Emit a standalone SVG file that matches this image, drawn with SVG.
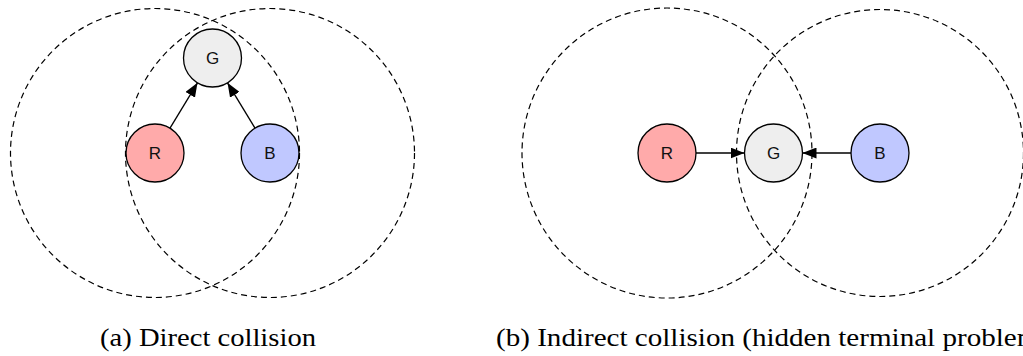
<svg xmlns="http://www.w3.org/2000/svg" width="1023" height="356" viewBox="0 0 1023 356">
<style>
.range{fill:none;stroke:#000;stroke-width:1.2;stroke-dasharray:6 4}
.node{stroke:#000;stroke-width:1.3}
.lbl{font-family:"Liberation Sans",Arial,sans-serif;font-size:17px;text-anchor:middle;fill:#111}
.edge{stroke:#000;stroke-width:1.3;fill:none;marker-end:url(#arr)}
.cap{font-family:"Liberation Serif","Times New Roman",serif;font-size:25px;fill:#000}
</style>
<defs>
<marker id="arr" viewBox="0 0 14 11" refX="14" refY="5.5" markerWidth="14" markerHeight="11" markerUnits="userSpaceOnUse" orient="auto">
<path d="M0,0 L14,5.5 L0,11 z" fill="#000"/>
</marker>
</defs>
<rect width="1023" height="356" fill="#fff"/>
<g id="ranges">
<circle class="range" cx="155" cy="153" r="144.5"/>
<circle class="range" cx="270" cy="153" r="144.5"/>
<circle class="range" cx="667" cy="153" r="145"/>
<circle class="range" cx="880" cy="153" r="143.5"/>
</g>
<g id="connectors">
<line class="edge" x1="170" y1="128.2" x2="197.5" y2="82.8"/>
<line class="edge" x1="255" y1="128.2" x2="227.5" y2="82.8"/>
<line class="edge" x1="696" y1="153" x2="744.5" y2="153"/>
<line class="edge" x1="851" y1="153" x2="802.5" y2="153"/>
</g>
<g id="a-G"><circle class="node" cx="212.5" cy="58" r="29" fill="#eeeeee"/><text class="lbl" x="212.5" y="64">G</text></g>
<g id="a-R"><circle class="node" cx="155" cy="153" r="29" fill="#ffaaaa"/><text class="lbl" x="155" y="159">R</text></g>
<g id="a-B"><circle class="node" cx="270" cy="153" r="29" fill="#c0c8ff"/><text class="lbl" x="270" y="159">B</text></g>
<g id="b-R"><circle class="node" cx="667" cy="153" r="29" fill="#ffaaaa"/><text class="lbl" x="667" y="159">R</text></g>
<g id="b-G"><circle class="node" cx="773.5" cy="153" r="29" fill="#eeeeee"/><text class="lbl" x="773.5" y="159">G</text></g>
<g id="b-B"><circle class="node" cx="880" cy="153" r="29" fill="#c0c8ff"/><text class="lbl" x="880" y="159">B</text></g>
<g id="captions">
<text class="cap" x="100" y="346" textLength="216" lengthAdjust="spacingAndGlyphs">(a) Direct collision</text>
<text class="cap" x="496" y="346" textLength="553" lengthAdjust="spacingAndGlyphs">(b) Indirect collision (hidden terminal problem)</text>
</g>
</svg>
